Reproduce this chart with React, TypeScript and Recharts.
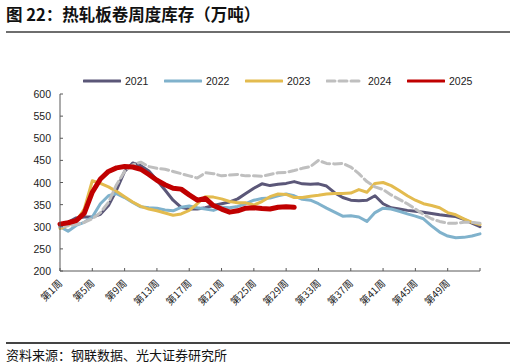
import { LineChart, Line, XAxis, YAxis } from "recharts";

const WEEKS = [
  "第1周", "第2周", "第3周", "第4周", "第5周", "第6周", "第7周", "第8周", "第9周", "第10周",
  "第11周", "第12周", "第13周", "第14周", "第15周", "第16周", "第17周", "第18周", "第19周", "第20周",
  "第21周", "第22周", "第23周", "第24周", "第25周", "第26周", "第27周", "第28周", "第29周", "第30周",
  "第31周", "第32周", "第33周", "第34周", "第35周", "第36周", "第37周", "第38周", "第39周", "第40周",
  "第41周", "第42周", "第43周", "第44周", "第45周", "第46周", "第47周", "第48周", "第49周", "第50周",
  "第51周", "第52周", "第53周",
];

const Y2021 = [300, 310, 320, 322, 322, 328, 348, 383, 425, 444, 438, 426, 405, 383, 360, 344, 340, 340, 343, 348, 352, 356, 363, 375, 387, 397, 393, 396, 398, 402, 397, 396, 397, 392, 377, 366, 360, 359, 360, 370, 352, 343, 340, 337, 335, 333, 330, 327, 325, 323, 317, 308, 300];
const Y2022 = [300, 290, 303, 310, 322, 352, 370, 375, 366, 355, 345, 343, 342, 338, 336, 344, 347, 343, 340, 337, 344, 343, 346, 352, 360, 364, 365, 370, 374, 370, 362, 360, 352, 342, 333, 324, 325, 322, 312, 332, 342, 340, 335, 329, 324, 318, 302, 288, 279, 275, 276, 279, 284];
const Y2023 = [296, 303, 312, 340, 404, 398, 390, 380, 368, 356, 346, 340, 336, 331, 326, 329, 337, 352, 368, 367, 363, 357, 354, 354, 349, 357, 368, 374, 373, 366, 366, 369, 371, 374, 375, 375, 376, 384, 378, 398, 400, 393, 382, 370, 360, 352, 348, 343, 332, 327, 318, 310, 305];
const Y2024 = [300, 302, 305, 310, 318, 332, 355, 395, 425, 440, 446, 436, 432, 430, 425, 420, 415, 410, 422, 420, 415, 417, 418, 415, 415, 414, 418, 422, 423, 427, 432, 436, 450, 443, 442, 443, 435, 420, 402, 390, 384, 372, 362, 352, 340, 328, 318, 312, 308, 308, 310, 310, 308];
const Y2025 = [306, 309, 314, 330, 378, 408, 425, 433, 436, 435, 430, 418, 405, 395, 387, 385, 372, 360, 364, 348, 340, 333, 336, 342, 343, 341, 340, 344, 345, 344];

const Y_TICKS = [200, 250, 300, 350, 400, 450, 500, 550, 600];
const HIDDEN_LABELS = ["第53周"];

const SERIES = [
  { key: "y2021", name: "2021", color: "#5b5778", width: 3, dash: undefined },
  { key: "y2022", name: "2022", color: "#80b2cc", width: 3, dash: undefined },
  { key: "y2023", name: "2023", color: "#e3bb4f", width: 3, dash: undefined },
  { key: "y2024", name: "2024", color: "#bfbfbf", width: 3, dash: "8 4" },
  { key: "y2025", name: "2025", color: "#c00000", width: 5, dash: undefined },
];

const data = WEEKS.map((week, i) => ({
  week,
  y2021: Y2021[i],
  y2022: Y2022[i],
  y2023: Y2023[i],
  y2024: Y2024[i],
  y2025: i < Y2025.length ? Y2025[i] : null,
}));

const AXIS_FONT = "'Liberation Sans', Arial, 'Noto Sans CJK SC', sans-serif";
const CJK_FONT = "'Noto Sans CJK SC', 'Liberation Sans', sans-serif";
const AXIS_COLOR = "#595959";

function YTick(props: any) {
  const { x, y, payload } = props;
  return (
    <g>
      <line x1={60} x2={63} y1={y} y2={y} stroke={AXIS_COLOR} />
      <text x={x} y={y} dy={4} textAnchor="end" fontSize={10.5} fill="#222" fontFamily={AXIS_FONT}>
        {payload.value}
      </text>
    </g>
  );
}

function XTick(props: any) {
  const { x, y, payload } = props;
  const show = !HIDDEN_LABELS.includes(payload.value);
  return (
    <g>
      <line x1={x} x2={x} y1={y} y2={y - 3} stroke={AXIS_COLOR} />
      {show && (
        <text
          x={x + 3}
          y={y + 13}
          textAnchor="end"
          fontSize={10}
          fill="#222"
          fontFamily={CJK_FONT}
          transform={`rotate(-45 ${x + 3} ${y + 13})`}
        >
          {payload.value}
        </text>
      )}
    </g>
  );
}

function LegendRow() {
  return (
    <div style={{ position: "absolute", top: 74, left: 83, display: "flex", fontFamily: AXIS_FONT, fontSize: 10.5, color: "#222" }}>
      {SERIES.map((s) => (
        <div key={s.key} style={{ width: 81, display: "flex", alignItems: "center", height: 14 }}>
          <svg width={38} height={6} style={{ marginRight: 4 }}>
            <line x1={1} x2={37} y1={3} y2={3} stroke={s.color} strokeWidth={3} strokeDasharray={s.dash} strokeLinecap="round" />
          </svg>
          <span>{s.name}</span>
        </div>
      ))}
    </div>
  );
}

export default function App() {
  return (
    <div style={{ position: "absolute", left: 0, top: 0, width: 516, height: 364, background: "#fff", overflow: "hidden" }}>
      <div style={{ position: "absolute", left: 6, top: 2, fontFamily: CJK_FONT, fontWeight: 700, fontSize: 16.5, color: "#111", whiteSpace: "nowrap" }}>
        图 22：热轧板卷周度库存（万吨）
      </div>
      <div style={{ position: "absolute", left: 6, top: 31, width: 504, height: 2, background: "#6e6e6e" }} />
      <LegendRow />
      <div style={{ position: "absolute", left: 0, top: 0 }}>
        <LineChart width={516} height={330} data={data} margin={{ top: 94, right: 36, bottom: 19, left: 0 }}>
          <XAxis
            dataKey="week"
            interval={3}
            height={40}
            tickSize={0}
            tickMargin={0}
            tick={<XTick />}
            axisLine={{ stroke: AXIS_COLOR }}
          />
          <YAxis
            domain={[200, 600]}
            ticks={Y_TICKS}
            width={60}
            tickSize={0}
            tickMargin={9}
            tick={<YTick />}
            axisLine={{ stroke: AXIS_COLOR }}
            interval={0}
          />
          {SERIES.map((s) => (
            <Line
              key={s.key}
              dataKey={s.key}
              type="linear"
              stroke={s.color}
              strokeWidth={s.width}
              strokeDasharray={s.dash}
              strokeLinejoin="round"
              strokeLinecap="round"
              dot={false}
              activeDot={false}
              isAnimationActive={false}
              connectNulls={false}
            />
          ))}
        </LineChart>
      </div>
      <div style={{ position: "absolute", left: 6, top: 342, width: 504, height: 1.5, background: "#444" }} />
      <div style={{ position: "absolute", left: 6, top: 345, fontFamily: CJK_FONT, fontSize: 13, color: "#111", whiteSpace: "nowrap" }}>
        资料来源：钢联数据、光大证券研究所
      </div>
    </div>
  );
}
